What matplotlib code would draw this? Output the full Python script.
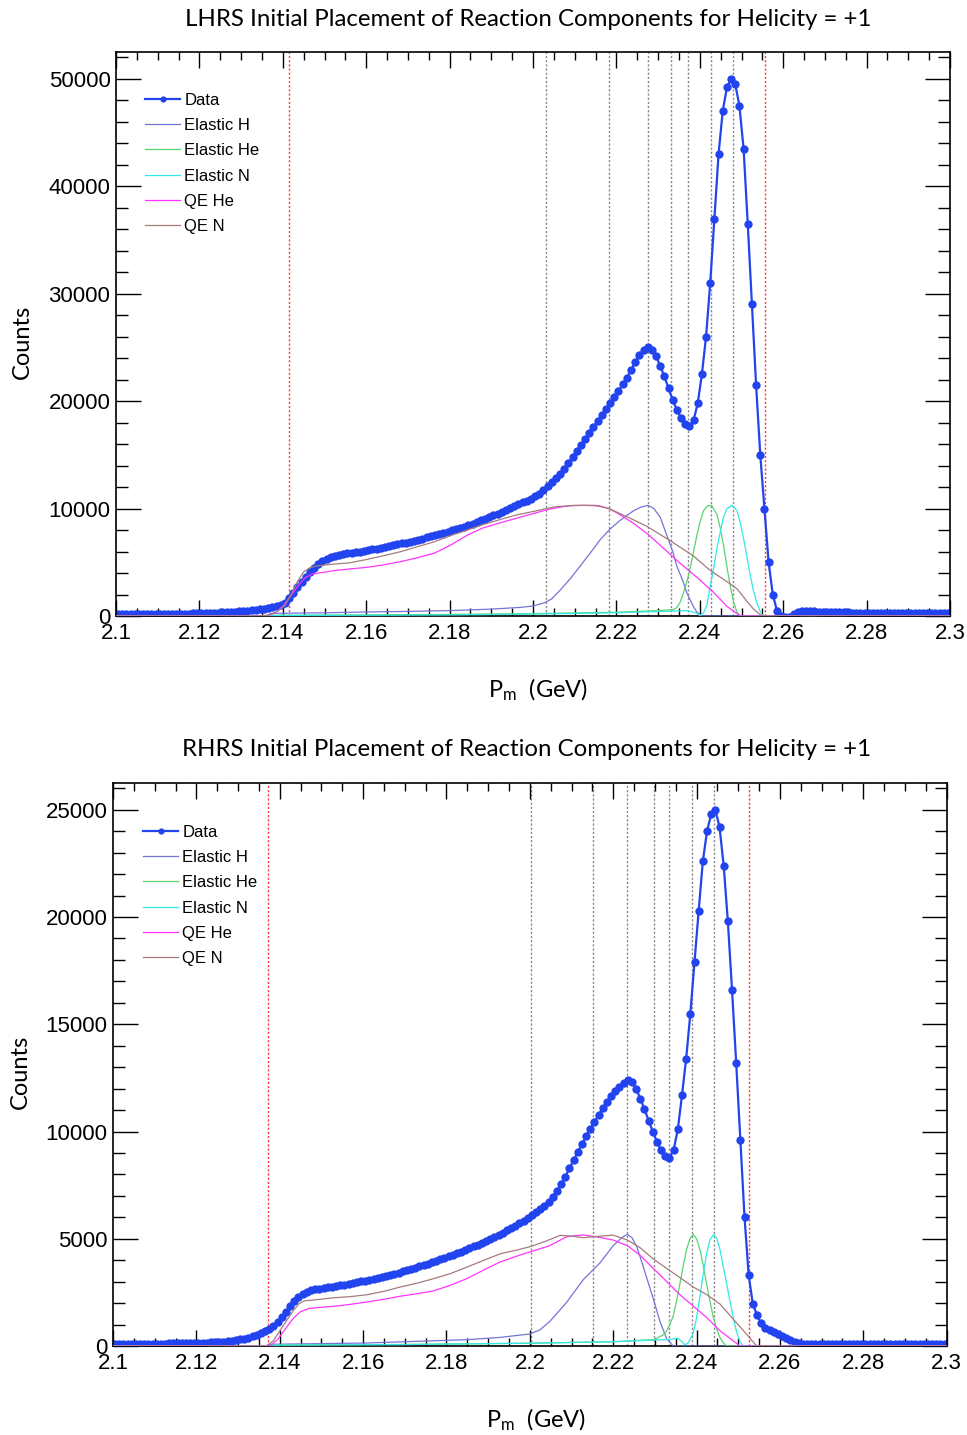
import numpy as np
import matplotlib
matplotlib.use('Agg')
import matplotlib.pyplot as plt
from matplotlib.ticker import MultipleLocator

plt.rcParams['font.family'] = ['Liberation Sans', 'DejaVu Sans']
plt.rcParams['mathtext.fontset'] = 'custom'
plt.rcParams['mathtext.rm'] = 'Lato'
plt.rcParams['mathtext.it'] = 'Lato:italic'

# ---------------- data ----------------
BIN_LO = 2.1
BIN_W = 0.001

TOP_DATA = [
    150, 152, 155, 158, 160, 163, 166, 170, 174, 178,
    182, 187, 192, 198, 204, 210, 218, 226, 235, 245,
    255, 267, 280, 295, 312, 330, 350, 372, 397, 425,
    455, 490, 530, 575, 625, 685, 750, 830, 920, 1040,
    1250, 1650, 2150, 2700, 3200, 3650, 4050, 4450, 4800, 5100,
    5320, 5480, 5600, 5690, 5760, 5820, 5870, 5930, 5990, 6060,
    6130, 6200, 6270, 6340, 6410, 6490, 6570, 6660, 6750, 6840,
    6930, 7020, 7110, 7210, 7310, 7410, 7520, 7630, 7740, 7850,
    7960, 8080, 8200, 8330, 8460, 8600, 8740, 8890, 9040, 9200,
    9360, 9530, 9700, 9870, 10040, 10210, 10390, 10570, 10750, 10930,
    11130, 11400, 11750, 12100, 12450, 12830, 13220, 13720, 14240, 14780,
    15330, 15880, 16440, 17000, 17570, 18140, 18710, 19280, 19850, 20420,
    20980, 21560, 22200, 22900, 23600, 24250, 24750, 25000, 24800, 24200,
    23300, 22300, 21200, 20100, 19200, 18400, 17850, 17700, 18200, 19800,
    22500, 26000, 31000, 37000, 43000, 47000, 49200, 50000, 49500, 47500,
    43500, 36500, 29000, 21500, 15000, 10000, 5000, 2000, 500, 0,
    -100, -50, 150, 350, 450, 480, 470, 440, 410, 380,
    360, 350, 345, 340, 335, 330, 325, 320, 315, 310,
    305, 300, 297, 294, 291, 288, 285, 282, 279, 276,
    273, 270, 268, 266, 264, 262, 260, 258, 256, 254,
]

BOT_DATA = [
    100, 101, 102, 103, 104, 105, 106, 107, 108, 110,
    112, 114, 116, 118, 120, 123, 126, 130, 135, 140,
    146, 153, 161, 170, 180, 192, 206, 224, 246, 272,
    305, 345, 395, 455, 525, 605, 700, 815, 955, 1125,
    1330, 1580, 1850, 2100, 2300, 2430, 2520, 2590, 2640, 2680,
    2710, 2740, 2770, 2800, 2830, 2860, 2890, 2930, 2970, 3010,
    3050, 3090, 3130, 3170, 3210, 3260, 3310, 3360, 3420, 3480,
    3540, 3600, 3660, 3720, 3780, 3840, 3900, 3970, 4040, 4110,
    4180, 4250, 4320, 4400, 4480, 4560, 4640, 4720, 4800, 4880,
    5000, 5090, 5190, 5290, 5390, 5500, 5610, 5730, 5850, 5970,
    6100, 6240, 6390, 6550, 6700, 6950, 7230, 7540, 7900, 8280,
    8660, 9040, 9420, 9780, 10130, 10460, 10780, 11080, 11370, 11640,
    11880, 12090, 12260, 12380, 12300, 12000, 11530, 11050, 10500, 10000,
    9520, 9120, 8860, 8780, 9150, 10100, 11700, 13400, 15500, 17900,
    20300, 22600, 24000, 24800, 25000, 24200, 22400, 19800, 16600, 13200,
    9600, 6000, 3300, 1950, 1450, 1050, 860, 750, 650, 560,
    460, 360, 260, 170, 130, 115, 110, 110, 110, 109,
    109, 108, 108, 107, 107, 106, 106, 105, 105, 105,
    104, 104, 104, 103, 103, 103, 102, 102, 102, 101,
    101, 101, 100, 100, 100, 100, 100, 100, 100, 100,
]

# ---- top (LHRS) components ----
TOP_ELH_X = [2.1000, 2.1365, 2.1370, 2.1500, 2.1600, 2.1700, 2.1800, 2.1900, 2.1969, 2.2000,
             2.2029, 2.2045, 2.2065, 2.2090, 2.2113, 2.2140, 2.2161, 2.2185, 2.2209, 2.2241,
             2.2260, 2.2276, 2.2290, 2.2305, 2.2321, 2.2335, 2.2345, 2.2360, 2.2369, 2.2383,
             2.2393, 2.2405, 2.3000]
TOP_ELH_Y = [0, 0, 250, 300, 370, 430, 500, 640, 800, 930,
             1250, 1600, 2400, 3500, 4640, 6000, 7100, 8100, 8900, 9800,
             10150, 10300, 10000, 9200, 7500, 6000, 4640, 3200, 2140, 1000,
             360, 0, 0]

TOP_ELHE_X = [2.1000, 2.1370, 2.1375, 2.1600, 2.1800, 2.2000, 2.2200, 2.2300, 2.2337, 2.2345,
              2.2353, 2.2361, 2.2369, 2.2377, 2.2385, 2.2393, 2.2401, 2.2409, 2.2418, 2.2428,
              2.2441, 2.2449, 2.2457, 2.2465, 2.2473, 2.2481, 2.2489, 2.2497, 2.3000]
TOP_ELHE_Y = [0, 0, 60, 100, 150, 220, 350, 500, 600, 780,
              1300, 2140, 3200, 4440, 6000, 7500, 8800, 9810, 10250, 10300,
              9470, 8200, 6540, 4600, 2830, 1300, 360, 0, 0]

TOP_ELN_X = [2.1000, 2.1370, 2.1375, 2.1800, 2.2000, 2.2200, 2.2330, 2.2370, 2.2390, 2.2401,
             2.2409, 2.2417, 2.2425, 2.2433, 2.2441, 2.2449, 2.2457, 2.2465, 2.2478, 2.2489,
             2.2497, 2.2505, 2.2513, 2.2521, 2.2529, 2.2537, 2.2545, 2.2552, 2.3000]
TOP_ELN_Y = [0, 0, 50, 100, 180, 300, 450, 500, 300, 50,
             300, 1000, 2800, 4400, 6300, 7800, 9200, 10000, 10300, 9800,
             8700, 7200, 5500, 3800, 2300, 1200, 400, 0, 0]

TOP_QEHE_X = [2.1000, 2.1360, 2.1380, 2.1400, 2.1420, 2.1440, 2.1455, 2.1470, 2.1500, 2.1522,
              2.1560, 2.1602, 2.1640, 2.1683, 2.1720, 2.1763, 2.1803, 2.1843, 2.1880, 2.1923,
              2.1960, 2.2003, 2.2040, 2.2083, 2.2120, 2.2160, 2.2185, 2.2210, 2.2240, 2.2276,
              2.2316, 2.2353, 2.2393, 2.2433, 2.2465, 2.2497, 2.3000]
TOP_QEHE_Y = [0, 0, 250, 900, 1900, 3000, 3600, 3900, 4080, 4220,
              4380, 4530, 4750, 5060, 5400, 5840, 6610, 7540, 8200, 8690,
              9100, 9560, 9950, 10250, 10300, 10250, 9950, 9400, 8650, 7600,
              6200, 4900, 3600, 2200, 900, 0, 0]

TOP_QEN_X = [2.1000, 2.1350, 2.1370, 2.1390, 2.1405, 2.1420, 2.1435, 2.1450, 2.1465, 2.1480,
             2.1500, 2.1520, 2.1560, 2.1600, 2.1640, 2.1683, 2.1720, 2.1763, 2.1800, 2.1843,
             2.1880, 2.1923, 2.1960, 2.2003, 2.2050, 2.2100, 2.2150, 2.2183, 2.2233, 2.2273,
             2.2329, 2.2385, 2.2425, 2.2473, 2.2490, 2.2513, 2.2530, 2.2549, 2.3000]
TOP_QEN_Y = [0, 0, 150, 500, 1000, 2000, 3200, 4100, 4500, 4650,
             4750, 4820, 4950, 5250, 5600, 5990, 6420, 6900, 7450, 8010,
             8500, 9000, 9400, 9750, 10150, 10300, 10300, 9990, 9100, 8350,
             7010, 5580, 4240, 2990, 2500, 1370, 600, 0, 0]

# ---- bottom (RHRS) components ----
BOT_ELH_X = [2.1000, 2.1369, 2.1372, 2.1608, 2.1848, 2.1928, 2.2000, 2.2024, 2.2048, 2.2088,
             2.2128, 2.2168, 2.2200, 2.2212, 2.2224, 2.2234, 2.2245, 2.2256, 2.2268, 2.2280,
             2.2296, 2.2312, 2.2328, 2.2344, 2.3000]
BOT_ELH_Y = [0, 0, 78, 140, 295, 400, 560, 750, 1150, 2030,
             3090, 3870, 4680, 4900, 5100, 5200, 5050, 4650, 3950, 3200,
             2210, 1150, 350, 0, 0]

BOT_ELHE_X = [2.1000, 2.1377, 2.1380, 2.1700, 2.2000, 2.2200, 2.2300, 2.2312, 2.2320, 2.2328,
              2.2336, 2.2344, 2.2352, 2.2360, 2.2368, 2.2376, 2.2384, 2.2392, 2.2400, 2.2408,
              2.2416, 2.2424, 2.2432, 2.2440, 2.2448, 2.2456, 2.2464, 2.2472, 2.3000]
BOT_ELHE_Y = [0, 0, 40, 70, 130, 200, 300, 440, 520, 700,
              1000, 1400, 2100, 2900, 3750, 4500, 5000, 5200, 5000, 4500,
              3750, 2900, 2100, 1350, 800, 400, 150, 0, 0]

BOT_ELN_X = [2.1000, 2.1377, 2.1380, 2.1700, 2.2000, 2.2200, 2.2330, 2.2355, 2.2365, 2.2372,
             2.2380, 2.2392, 2.2400, 2.2408, 2.2416, 2.2424, 2.2432, 2.2441, 2.2449, 2.2456,
             2.2464, 2.2472, 2.2480, 2.2488, 2.2496, 2.2504, 2.2512, 2.3000]
BOT_ELN_Y = [0, 0, 40, 70, 130, 200, 300, 360, 200, 50,
             150, 600, 1320, 2300, 3370, 4300, 4950, 5200, 5000, 4500,
             3700, 2910, 2100, 1320, 650, 200, 0, 0]

BOT_QEHE_X = [2.1000, 2.1377, 2.1395, 2.1417, 2.1433, 2.1449, 2.1470, 2.1489, 2.1529, 2.1569,
              2.1609, 2.1650, 2.1689, 2.1730, 2.1769, 2.1809, 2.1849, 2.1890, 2.1929, 2.1970,
              2.2004, 2.2048, 2.2089, 2.2128, 2.2168, 2.2200, 2.2234, 2.2264, 2.2296, 2.2328,
              2.2360, 2.2392, 2.2424, 2.2456, 2.2480, 2.2504, 2.3000]
BOT_QEHE_Y = [0, 0, 300, 890, 1300, 1590, 1750, 1790, 1850, 1940,
              2050, 2180, 2320, 2440, 2570, 2830, 3140, 3550, 3920, 4200,
              4410, 4680, 5100, 5180, 5060, 4940, 4680, 4240, 3620, 3010,
              2390, 1860, 1330, 710, 360, 0, 0]

BOT_QEN_X = [2.1000, 2.1369, 2.1385, 2.1401, 2.1417, 2.1433, 2.1445, 2.1457, 2.1489, 2.1529,
             2.1569, 2.1609, 2.1650, 2.1689, 2.1730, 2.1769, 2.1810, 2.1849, 2.1890, 2.1929,
             2.1970, 2.2004, 2.2040, 2.2073, 2.2100, 2.2129, 2.2169, 2.2200, 2.2234, 2.2264,
             2.2296, 2.2328, 2.2360, 2.2392, 2.2424, 2.2456, 2.2488, 2.2520, 2.2544, 2.3000]
BOT_QEN_Y = [0, 0, 250, 730, 1200, 1660, 1950, 2100, 2160, 2250,
             2300, 2390, 2550, 2750, 2930, 3140, 3380, 3680, 4000, 4300,
             4480, 4650, 4900, 5160, 5120, 5050, 5120, 5170, 4940, 4590,
             4060, 3620, 3190, 2750, 2400, 1960, 1250, 550, 0, 0]

TOP_LINES = [2.2031, 2.2183, 2.2276, 2.2332, 2.2372, 2.2428, 2.2480]
TOP_CUTS = [2.1416, 2.2556]
BOT_LINES = [2.2002, 2.2152, 2.2234, 2.2297, 2.2334, 2.2390, 2.2441]
BOT_CUTS = [2.1372, 2.2526]

LABELS = ['Data', 'Elastic H', 'Elastic He', 'Elastic N', 'QE He', 'QE N']
TITLES = ['LHRS Initial Placement of Reaction Components for Helicity = +1',
          'RHRS Initial Placement of Reaction Components for Helicity = +1']
XLABEL = r'P$_{\mathrm{m}}$  (GeV)'
YLABEL = 'Counts'

# ---------------- style ----------------
C_DATA = '#2244ee'
C_COMP = ['#7474d8', '#5ad46e', '#33e8e8', '#ff33ff', '#a47c7c']
TITLE_FONT = 'Lato'

W, H = 967, 1435
fig = plt.figure(figsize=(W / 100, H / 100), dpi=100)


def px_axes(l, t, r, b):
    return fig.add_axes([l / W, 1 - b / H, (r - l) / W, (b - t) / H])


def panel(ax, data, comps, lines, cuts, ymax, ymaj, ymin_, leg_anchor):
    centers = BIN_LO + BIN_W * (np.arange(len(data)) + 0.5)
    for xv in lines:
        ax.axvline(xv, color='#8a8a8a', lw=1.0, ls=(0, (1.6, 1.4)), zorder=1)
    for xv in cuts:
        ax.axvline(xv, color='#ff3b3b', lw=1.0, ls=(0, (1.6, 1.4)), zorder=1)
    ax.axhline(0, color='#ff3b3b', lw=1.0, ls=(0, (1.6, 1.4)), zorder=1)
    ax.plot(centers, data, '-o', color=C_DATA, lw=1.6, ms=6.0, mew=0,
            label=LABELS[0], zorder=2)
    for (cx, cy), col, lab in zip(comps, C_COMP, LABELS[1:]):
        ax.plot(cx, cy, color=col, lw=0.9, label=lab, zorder=3)
    ax.set_xlim(2.1, 2.3)
    ax.set_ylim(0, ymax)
    ax.xaxis.set_major_locator(MultipleLocator(0.02))
    ax.xaxis.set_minor_locator(MultipleLocator(0.005))
    ax.yaxis.set_major_locator(MultipleLocator(ymaj))
    ax.yaxis.set_minor_locator(MultipleLocator(ymin_))
    ax.xaxis.set_major_formatter(plt.FuncFormatter(lambda v, p: ('%.2f' % v).rstrip('0')))
    ax.tick_params(axis='both', which='both', direction='in', top=True, right=True,
                   width=1.0, labelsize=16, colors='black')
    ax.tick_params(axis='x', which='major', length=11.5, pad=5)
    ax.tick_params(axis='x', which='minor', length=5.8)
    ax.tick_params(axis='y', which='major', length=18, pad=4)
    ax.tick_params(axis='y', which='minor', length=8.6)
    for s in ax.spines.values():
        s.set_linewidth(1.2)
    leg = ax.legend(loc='upper left', bbox_to_anchor=leg_anchor, frameon=False,
                    fontsize=12, handlelength=2.1, handletextpad=0.25,
                    labelspacing=0.62, borderpad=0, borderaxespad=0, numpoints=1,
                    markerscale=0.75)
    return leg


ax1 = px_axes(116, 52, 950, 616)
panel(ax1, TOP_DATA,
      [(TOP_ELH_X, TOP_ELH_Y), (TOP_ELHE_X, TOP_ELHE_Y), (TOP_ELN_X, TOP_ELN_Y),
       (TOP_QEHE_X, TOP_QEHE_Y), (TOP_QEN_X, TOP_QEN_Y)],
      TOP_LINES, TOP_CUTS, 52500, 10000, 2000, (0.035, 0.928))

ax2 = px_axes(113, 783, 946.7, 1346)
panel(ax2, BOT_DATA,
      [(BOT_ELH_X, BOT_ELH_Y), (BOT_ELHE_X, BOT_ELHE_Y), (BOT_ELN_X, BOT_ELN_Y),
       (BOT_QEHE_X, BOT_QEHE_Y), (BOT_QEN_X, BOT_QEN_Y)],
      BOT_LINES, BOT_CUTS, 26250, 5000, 1000, (0.036, 0.926))


def ftext(x, y, s, **kw):
    fig.text(x / W, 1 - y / H, s, ha='center', va='center', family=TITLE_FONT, **kw)


ftext(528, 19, TITLES[0], fontsize=17.3)
ftext(527, 749, TITLES[1], fontsize=17.3)
ftext(538, 690, XLABEL, fontsize=17)
ftext(536, 1420, XLABEL, fontsize=17)
ftext(22, 342, YLABEL, fontsize=17, rotation=90)
ftext(20, 1072, YLABEL, fontsize=17, rotation=90)

fig.savefig('out.png', dpi=100)
